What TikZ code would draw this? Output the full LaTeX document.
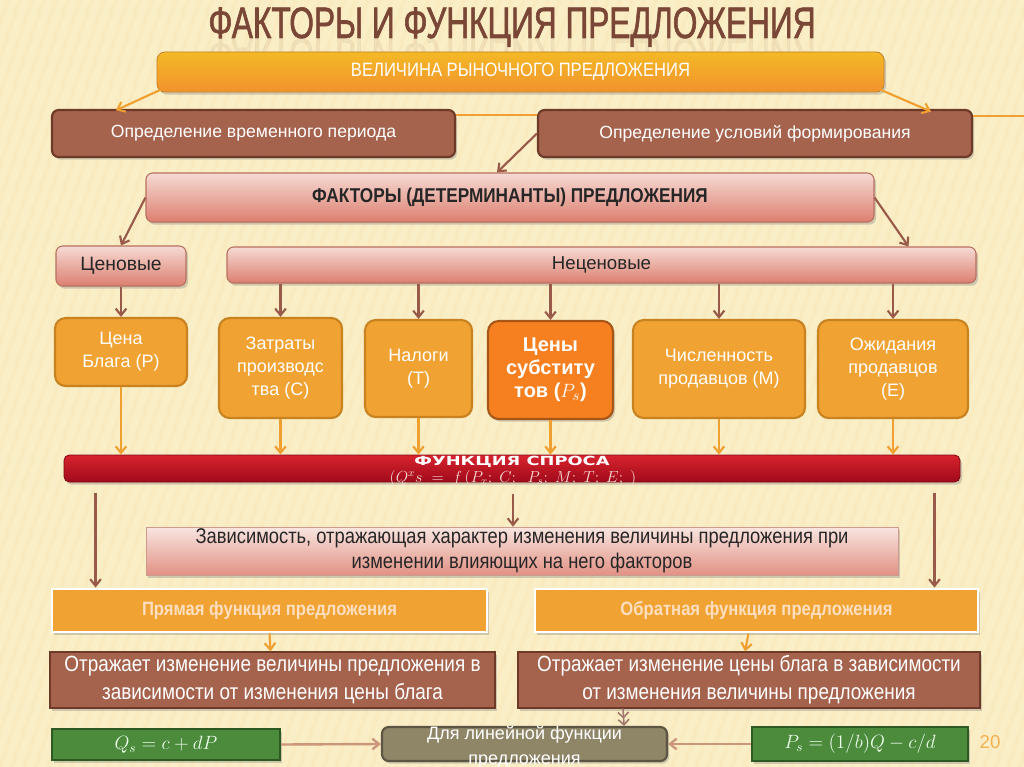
\documentclass[tikz,border=0pt]{standalone}
\usepackage{fontspec}
\setmainfont{Liberation Sans}
\newfontfamily\titlefont[FakeStretch=0.72,FakeBold=1.3]{Liberation Sans}
\newfontfamily\nar[FakeStretch=0.86]{Liberation Sans}
\newfontfamily\widefont[FakeStretch=1.42]{DejaVu Sans}
\usetikzlibrary{arrows.meta,shadows,calc}
\definecolor{bgc}{HTML}{F9EEC6}
\definecolor{titlec}{HTML}{7A4636}
\definecolor{brownf}{HTML}{A5634E}
\definecolor{brownd}{HTML}{6E3A28}
\definecolor{orf}{HTML}{F0A232}
\definecolor{ord}{HTML}{C98220}
\definecolor{orarrow}{HTML}{EFA030}
\definecolor{brarrow}{HTML}{9A5A4A}
\definecolor{pinkt}{HTML}{F6DAD3}
\definecolor{pinkb}{HTML}{DC7F70}
\definecolor{pinkd}{HTML}{B8705F}
\definecolor{redt}{HTML}{D8232E}
\definecolor{redb}{HTML}{A00A1A}
\definecolor{greenf}{HTML}{4C8A3C}
\definecolor{greend}{HTML}{2C5A22}
\definecolor{greyf}{HTML}{8F8668}
\definecolor{greyd}{HTML}{5C5544}
\definecolor{tanarrow}{HTML}{CC967C}
\tikzset{
  shd/.style={drop shadow={opacity=0.35,shadow xshift=1.5pt,shadow yshift=-2pt}},
  brownbox/.style={draw=brownd,line width=1.6pt,fill=brownf,rounded corners=5pt,text=white,inner sep=0pt,shd},
  pinkbox/.style={draw=pinkd,line width=0.8pt,top color=pinkt,bottom color=pinkb,rounded corners=5pt,inner sep=0pt,text=black!85,shd},
  orbox/.style={draw=ord,line width=1.6pt,fill=orf,rounded corners=8pt,text=white,inner sep=0pt,align=center,font=\fontsize{13.5}{17.25}\selectfont},
  oarr/.style={draw=orarrow,line width=1.6pt,-{Straight Barb[length=5pt,width=8pt]}},
  barr/.style={draw=brarrow,line width=1.6pt,-{Straight Barb[length=5pt,width=8pt]}},
  tarr/.style={draw=tanarrow,line width=1.8pt,-{Straight Barb[length=5pt,width=8pt]}},
}
\begin{document}
\begin{tikzpicture}[x=0.75pt,y=-0.75pt]
\fill[bgc] (0,0) rectangle (1024,767);
\useasboundingbox (0,0) rectangle (1024,767);
\begin{scope}
\clip (0,0) rectangle (1024,767);
\foreach \i in {-300,-288,...,1024}{\draw[bgc!90!orange,line width=2.5pt,opacity=0.35] (\i,767) -- (\i+260,0);}
\end{scope}
% title
\node[text=titlec,font=\titlefont\fontsize{33}{33}\selectfont,anchor=base] (title) at (512,38) {ФАКТОРЫ И ФУНКЦИЯ ПРЕДЛОЖЕНИЯ};
\node[text=titlec,opacity=0.07,font=\titlefont\fontsize{33}{33}\selectfont,anchor=base,transform shape,yscale=-1] (refl) at (512,39) {ФАКТОРЫ И ФУНКЦИЯ ПРЕДЛОЖЕНИЯ};
\coordinate (edge) at (1024,116);
% boxes
\node[draw=orf!80!black,line width=0.6pt,top color=orf!75!yellow,bottom color=orf!90!red,rounded corners=6pt,minimum width=545.25pt,minimum height=30pt,inner sep=0pt,text=white,font=\nar\fontsize{14.5}{14.5}\selectfont,shd] (top) at (520.5,72) {ВЕЛИЧИНА РЫНОЧНОГО ПРЕДЛОЖЕНИЯ};
\node[brownbox,minimum width=302.25pt,minimum height=35.25pt,font=\fontsize{13.2}{13.2}\selectfont] (b2a) at (253.5,133.5) {Определение временного периода};
\node[brownbox,minimum width=325.5pt,minimum height=35.25pt,font=\fontsize{13.2}{13.2}\selectfont] (b2b) at (755,133.5) {Определение условий формирования};
\draw[orarrow,line width=1.4pt] ([yshift=-4.5pt]b2a.north east) -- ([yshift=-4.5pt]b2b.north west);
\draw[orarrow,line width=1.4pt] (b2b.east |- edge) -- (edge);
\node[pinkbox,minimum width=546pt,minimum height=36.75pt,font=\nar\bfseries\fontsize{15}{15}\selectfont] (fac) at (510,197.5) {ФАКТОРЫ (ДЕТЕРМИНАНТЫ) ПРЕДЛОЖЕНИЯ};
\node[pinkbox,minimum width=97.5pt,minimum height=30pt,font=\fontsize{14.5}{14.5}\selectfont] (cen) at (121,266) {Ценовые};
\node[pinkbox,minimum width=561.75pt,minimum height=27pt,font=\fontsize{14}{14}\selectfont] (nec) at (601.5,265) {\raisebox{3pt}{Неценовые}};
% factor row
\node[orbox,minimum width=99pt,minimum height=51pt] (r1) at (121,352) {Цена\\Блага (P)};
\node[orbox,minimum width=92.25pt,minimum height=75pt] (r2) at (280.5,368) {Затраты\\производс\\тва (C)};
\node[orbox,minimum width=80.25pt,minimum height=72.75pt] (r3) at (418.5,368.5) {Налоги\\(T)};
\node[orbox,draw=brownd!60!orange,fill=orf!70!red!90!yellow,font=\bfseries\fontsize{15}{17.25}\selectfont,shd,minimum width=93.75pt,minimum height=73.5pt] (r4) at (550.5,370) {Цены\\субститу\\тов ($P_s$)};
\node[orbox,minimum width=129pt,minimum height=73.5pt] (r5) at (719,369) {Численность\\продавцов (M)};
\node[orbox,minimum width=112.5pt,minimum height=73.5pt] (r6) at (893,369) {Ожидания\\продавцов\\(E)};
% red bar
\node[draw=redb!80!black,line width=0.6pt,top color=redt,bottom color=redb,rounded corners=4pt,minimum width=672pt,minimum height=20.25pt,inner sep=0pt,shd] (red) at (512,468.5) {};
\node[text=white,font=\widefont\bfseries\fontsize{9.4}{9.4}\selectfont,anchor=base,inner sep=0pt] (redt1) at (512,465) {ФУНКЦИЯ СПРОСА};
\node[text=pinkt,font=\fontsize{12}{12}\selectfont,anchor=base,inner sep=0pt] (redt2) at (513,482) {$(Q^x s \;=\; f\,(P_x;\; C;\;\; P_s;\; M;\; T;\; E;\;)$};
% dependency box
\node[draw=pinkd!70,line width=0.5pt,top color=pinkt!70!white,bottom color=pinkb!80!pinkt,minimum width=564pt,minimum height=36pt,inner sep=0pt,align=center,text=black!85,font=\nar\fontsize{16}{18.75}\selectfont,shd] (dep) at (522,551) {Зависимость, отражающая характер изменения величины предложения при\\изменении влияющих на него факторов};
% direct / inverse
\node[draw=white,line width=2.2pt,fill=orf,minimum width=326.25pt,minimum height=32.25pt,inner sep=0pt,text=orange!25!white,font=\nar\bfseries\fontsize{14.5}{14.5}\selectfont,shd] (pr) at (269.5,610.5) {Прямая функция предложения};
\node[draw=white,line width=2.2pt,fill=orf,minimum width=332.25pt,minimum height=32.25pt,inner sep=0pt,text=orange!25!white,font=\nar\bfseries\fontsize{14.5}{14.5}\selectfont,shd] (ob) at (756.5,610.5) {Обратная функция предложения};
\node[draw=brownd,line width=1pt,fill=brownf,minimum width=333.75pt,minimum height=42pt,inner sep=0pt,align=center,text=white,font=\nar\fontsize{16.5}{21}\selectfont,shd] (t1) at (272.5,680) {Отражает изменение величины предложения в\\зависимости от изменения цены блага};
\node[draw=brownd,line width=1pt,fill=brownf,minimum width=346.5pt,minimum height=42pt,inner sep=0pt,align=center,text=white,font=\nar\fontsize{16.5}{21}\selectfont,shd] (t2) at (749,680) {Отражает изменение цены блага в зависимости\\от изменения величины предложения};
% bottom row
\node[draw=greyd,line width=1.6pt,fill=greyf,rounded corners=5pt,minimum width=213.75pt,minimum height=25.5pt,inner sep=0pt,shd] (lin) at (524.5,744) {};
\node[align=center,text=white,font=\fontsize{13.5}{18.75}\selectfont,inner sep=0pt] (lintext) at (524.5,747) {Для линейной функции\\предложения};
\node[draw=greend,line width=1.8pt,fill=greenf,minimum width=171pt,minimum height=23.25pt,inner sep=0pt,text=white!92!green,font=\fontsize{14.4}{14.4}\selectfont,shd] (g1) at (166,744.5) {$Q_s = c + dP$};
\node[draw=greend,line width=1.8pt,fill=greenf,minimum width=162pt,minimum height=25.5pt,inner sep=0pt,text=white!92!green,font=\fontsize{14.4}{14.4}\selectfont,shd] (g2) at (860,744) {$P_s = (1/b)Q - c/d$};
\node[text=orf!85!white,font=\fontsize{14}{14}\selectfont] (num) at (990,742) {20};
% connectors
\draw[oarr] ([xshift=3pt,yshift=2pt]top.south west) -- ([xshift=48.75pt,yshift=-1pt]b2a.north west);
\draw[oarr] ([xshift=-3pt,yshift=2pt]top.south east) -- ([xshift=-31.5pt,yshift=-2pt]b2b.north east);
\draw[barr] (b2b.west) -- ([xshift=-9.75pt]fac.north);
\draw[barr] (fac.west) -- (cen.north);
\draw[barr] (fac.east) -- ([xshift=-51pt]nec.north east);
\draw[barr] (cen.south) -- (r1.north);
\foreach \r in {r2,r3,r4,r5,r6}{\draw[barr] (nec.south -| \r.north) -- (\r.north);}
\foreach \r in {r1,r2,r3,r4,r5,r6}{\draw[oarr] (\r.south) -- (\r.south |- red.north);}
\draw[barr] ($([xshift=33.75pt]pr.north west)+(0,-95)$) -- ([xshift=33.75pt]pr.north west);
\draw[barr] ($([xshift=-33.75pt]ob.north east)+(0,-95)$) -- ([xshift=-33.75pt]ob.north east);
\draw[barr] ($([xshift=-6.75pt]dep.north)+(0,-33)$) -- ([xshift=-6.75pt]dep.north);
\draw[oarr] (pr.south) -- ([xshift=-1.5pt]t1.north);
\draw[oarr] ([xshift=-6pt]ob.south) -- ([xshift=-3pt]t2.north);
\draw[draw=pinkd!60!gray,line width=1.2pt,-{Straight Barb[length=4pt,width=8pt]Straight Barb[length=4pt,width=8pt]}] ([xshift=-94.5pt]t2.south) -- ([xshift=-33pt]lin.north east);
\draw[tarr] (g1.east) -- (lin.west);
\draw[tarr] (g2.west) -- (lin.east);
\end{tikzpicture}
\end{document}
